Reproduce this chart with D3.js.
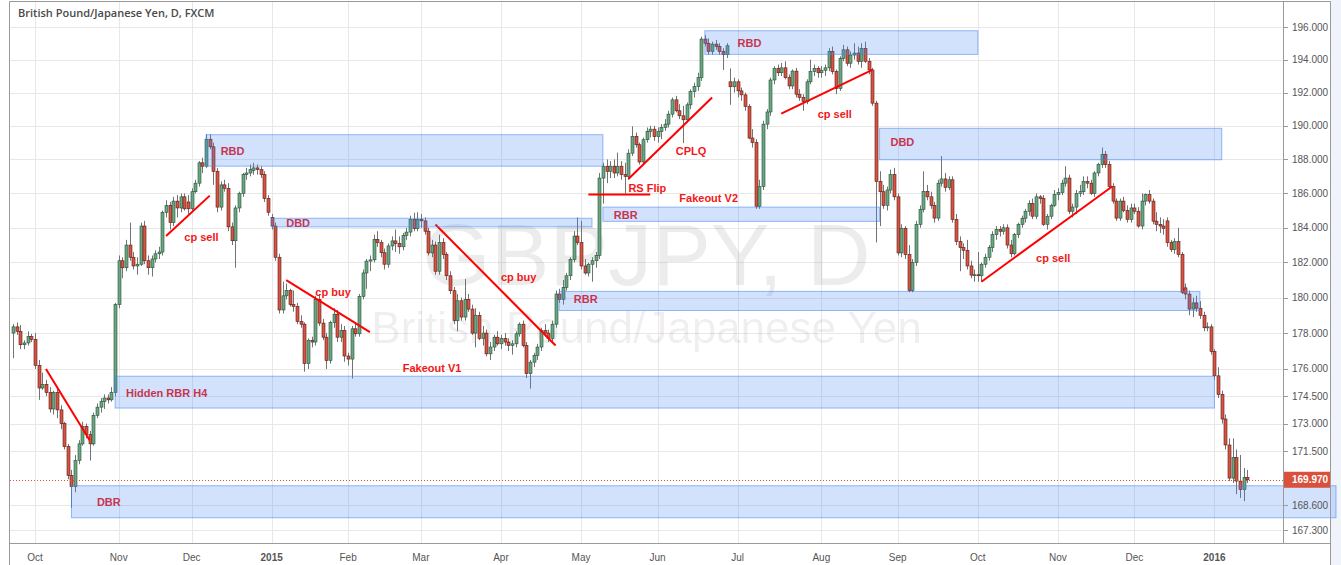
<!DOCTYPE html>
<html>
<head>
<meta charset="utf-8">
<script src="https://cdn.jsdelivr.net/npm/d3@7"></script>
<style>
  body { margin: 0; background: #fff; }
  svg { display: block; font-family: Arial, "Liberation Sans", sans-serif; }
</style>
</head>
<body>
<svg id="chart" width="1341" height="565"></svg>
<script>
// GBPJPY daily, FXCM. Trading days run Sep 23 2014 -> Jan 15 2016, weekends and these holidays skipped
var firstDay = "2014-09-23", lastDay = "2016-01-15";
var holidays = ["2014-12-25", "2015-01-01", "2015-12-25", "2016-01-01"];

var opens = [
  178.0,178.35,178.1,177.35,177.45,177.8,
  177.65,176.2,174.95,175.15,174.7,173.8,174.7,173.75,173.0,171.75,170.2,169.6,171.0,171.9,172.85,172.4,171.9,173.45,173.9,174.2,174.4,174.3,174.7,
  179.6,182.1,181.7,183.0,182.3,181.8,181.9,184.1,182.1,181.7,182.2,182.5,182.6,184.9,185.3,184.3,185.55,185.15,185.8,185.5,
  185.1,186.1,186.6,187.8,187.6,189.2,188.75,187.3,185.2,186.5,186.3,184.05,183.25,185.15,186.0,187.1,187.2,187.35,187.5,187.4,187.1,185.7,
  184.6,184.1,182.3,179.3,180.1,180.4,179.6,179.5,178.65,178.5,176.3,177.6,177.5,179.9,178.56,177.77,176.47,178.6,179.06,177.77,178.14,
  176.72,176.55,178.24,177.96,180.07,181.4,182.08,182.15,183.33,183.14,182.56,181.9,182.95,183.24,183.1,182.9,183.56,183.75,184.48,183.95,
  184.48,184.4,183.8,182.55,183.0,181.5,183.14,182.47,181.24,180.39,178.7,179.82,178.9,179.9,179.35,178.0,179.0,177.7,178.0,176.84,177.22,177.77,
  177.4,177.7,177.5,177.3,177.4,177.96,178.5,177.3,175.74,176.38,176.75,177.22,178.14,178.0,177.7,178.5,180.2,179.9,180.58,181.24,182.18,183.52,
  183.14,181.8,181.4,181.9,182.1,182.4,186.9,187.6,187.3,187.6,187.2,187.6,187.1,187.0,188.37,189.37,188.87,187.85,189.17,189.67,189.8,
  189.35,189.65,189.9,190.1,190.7,191.56,190.9,190.6,190.36,191.26,192.06,192.36,192.9,195.26,195.0,194.5,194.95,194.8,194.5,194.3,192.65,192.35,
  192.65,192.1,191.86,191.16,189.27,189.0,185.25,186.4,190.1,190.83,192.76,193.46,193.2,193.5,192.9,192.4,193.3,191.9,191.7,191.46,192.65,193.27,193.47,
  193.2,193.35,193.5,194.5,193.27,192.25,194.07,194.6,193.78,194.28,194.4,193.9,194.68,193.9,193.37,191.36,186.7,186.1,185.3,186.2,187.1,
  185.8,182.55,183.97,182.46,180.4,182.0,184.2,185.06,186.12,185.8,185.3,184.56,186.6,186.85,186.35,186.8,184.48,183.2,182.85,182.7,181.8,181.28,
  181.3,181.24,181.9,182.3,182.85,183.6,183.9,183.8,184.0,183.0,182.5,183.6,184.2,184.55,184.96,185.4,184.67,185.8,185.7,184.2,184.67,185.3,
  185.93,186.05,186.6,186.9,184.96,185.2,186.0,186.1,186.7,186.6,186.0,187.2,187.7,188.3,187.7,186.4,185.55,184.56,185.55,185.0,184.48,
  185.15,184.96,184.1,185.55,185.93,185.55,184.38,184.2,184.1,184.4,183.14,182.75,183.2,182.46,180.55,180.2,179.35,179.7,179.4,179.0,178.3,178.35,
  176.97,175.62,174.6,173.25,171.84,170.06,171.16,169.9,169.44,170.1
];
var highs = [
  178.5,178.6,178.45,177.6,178.1,177.95,
  178.0,176.5,175.8,175.4,175.0,174.8,174.9,174.0,173.1,171.9,170.5,171.3,172.1,173.1,173.0,172.6,173.6,174.1,174.4,174.6,174.6,175.0,179.7,
  182.4,182.3,183.3,184.3,182.6,182.3,184.3,184.4,182.4,182.4,182.7,182.9,185.0,185.6,185.5,185.8,185.9,186.0,186.0,185.9,
  186.3,186.8,187.9,188.1,189.5,189.5,189.0,187.5,186.7,186.8,186.6,184.3,185.3,186.1,187.2,187.5,187.7,187.8,187.7,187.6,187.3,185.9,
  184.8,184.3,182.5,180.9,180.8,180.5,180.4,179.7,179.0,178.6,177.7,177.8,180.1,180.2,178.8,178.0,178.7,179.4,179.3,178.5,178.4,
  176.9,178.4,178.6,180.2,181.6,182.2,182.4,183.6,183.8,183.3,182.8,183.1,183.5,183.9,183.5,183.7,184.0,184.7,184.87,184.9,
  184.8,184.6,184.0,183.3,183.2,183.6,183.4,182.6,181.5,180.6,180.2,180.0,181.05,180.2,179.6,179.4,179.2,178.4,178.2,177.5,177.9,178.1,
  177.9,178.0,177.7,177.6,178.1,178.6,178.7,177.5,176.5,176.9,177.4,178.3,178.5,178.2,178.7,180.4,180.5,181.0,181.4,182.3,183.8,184.6,
  184.4,182.2,182.0,182.3,182.6,187.2,187.8,188.0,187.9,188.0,188.4,187.9,187.8,188.6,189.97,189.6,189.0,189.3,189.9,190.0,190.0,
  189.9,190.1,190.4,190.9,191.7,191.8,191.3,191.2,191.4,192.2,192.6,193.2,195.4,195.5,195.3,195.1,195.2,195.0,194.7,195.0,193.46,192.9,
  192.8,192.3,192.0,191.3,189.8,189.2,186.8,190.3,191.0,192.9,193.6,193.7,193.8,193.9,193.1,193.4,193.5,192.2,191.9,192.8,194.0,193.7,193.6,
  193.6,193.7,194.7,194.8,193.4,194.2,194.9,194.8,194.5,195.0,194.8,195.0,195.1,194.1,193.5,191.5,187.3,186.5,186.4,187.4,187.5,
  186.0,184.2,184.1,183.0,182.2,184.4,185.3,187.3,186.5,186.1,185.5,186.8,188.2,187.2,187.0,187.0,184.8,183.5,183.1,183.3,182.1,181.6,
  182.6,182.0,182.5,183.0,183.8,184.1,184.1,184.2,184.2,183.3,183.7,184.3,184.7,185.1,185.6,185.7,186.0,185.9,185.9,184.8,185.4,186.2,
  186.3,186.8,187.6,187.1,185.4,186.2,186.5,187.0,187.0,186.8,187.3,187.8,188.7,188.5,187.9,186.6,185.7,185.7,185.8,185.3,185.4,
  185.4,185.2,186.0,186.0,186.2,185.7,184.9,184.6,184.5,184.6,183.3,183.4,184.0,182.6,180.8,180.4,180.0,180.1,179.8,179.2,178.6,178.5,
  177.1,176.1,174.8,173.5,172.2,172.2,171.6,171.3,170.6,170.5
];
var lows = [
  176.6,177.9,177.1,177.1,177.3,177.5,
  176.0,174.3,174.85,174.5,173.6,173.5,173.3,172.7,171.6,170.0,168.47,169.3,170.8,171.8,172.2,171.0,171.8,173.3,173.6,173.8,174.1,174.2,174.5,
  179.4,181.1,181.5,182.1,181.6,181.3,181.8,181.9,181.3,181.2,182.0,182.2,182.4,184.6,183.9,184.1,184.6,184.9,185.0,184.8,
  185.0,186.0,186.4,187.2,187.5,188.6,186.5,184.9,185.0,186.1,183.8,183.0,181.7,184.9,185.8,186.8,187.0,187.1,187.1,186.9,185.5,184.7,
  183.9,182.1,179.1,179.1,179.9,179.5,179.2,178.5,178.3,175.85,176.0,177.2,177.3,178.4,177.6,176.0,176.3,178.3,177.5,177.5,176.4,
  176.2,175.47,177.8,177.8,179.9,180.5,181.5,182.0,182.9,182.3,181.6,181.7,182.7,182.6,182.5,182.7,183.3,183.5,183.8,183.8,
  184.0,183.6,182.4,182.3,181.3,181.3,182.2,181.0,180.2,178.5,178.1,178.7,178.7,179.2,177.9,177.2,177.6,177.3,176.7,176.5,177.0,177.3,
  177.1,177.3,177.0,176.8,177.2,177.8,177.2,175.5,174.92,176.1,176.5,177.0,177.8,177.5,177.5,178.3,179.7,179.6,180.4,181.0,182.0,183.0,
  181.6,181.3,181.2,180.9,181.7,182.2,185.4,186.6,186.9,186.9,187.0,186.8,186.0,186.8,188.2,188.7,187.7,187.7,189.0,189.3,189.1,
  189.0,189.2,189.7,189.9,190.5,190.8,190.4,188.97,190.2,191.0,191.7,192.1,192.7,194.8,194.3,194.3,194.6,194.3,193.37,194.1,191.26,192.0,
  191.7,191.5,190.9,189.2,188.7,185.1,185.1,186.2,189.8,190.6,192.5,193.0,193.0,192.8,192.2,192.2,191.7,191.5,190.9,191.3,192.5,193.0,192.9,
  192.9,193.0,193.3,193.1,191.9,192.1,193.9,193.6,193.5,194.0,193.7,193.5,193.8,193.1,191.2,183.15,184.1,185.1,185.0,186.0,185.6,
  182.4,182.3,182.2,180.3,180.3,181.8,184.0,184.9,185.6,185.1,184.3,184.4,186.4,186.1,186.2,184.3,183.0,181.5,182.2,181.6,181.1,180.9,
  180.9,180.9,181.7,182.1,182.6,183.3,183.5,183.6,182.8,182.3,182.4,183.4,184.0,184.3,184.7,184.5,184.5,185.4,184.1,183.9,184.5,185.2,
  185.6,185.9,186.4,184.8,184.6,184.8,185.8,185.9,186.3,185.9,185.8,187.0,187.5,187.5,186.3,185.4,184.4,184.4,184.9,184.3,184.3,
  184.8,184.0,183.9,185.3,185.4,184.2,183.8,183.7,183.6,182.9,182.6,182.5,182.3,180.2,179.9,179.0,178.9,179.2,178.8,178.1,178.1,176.8,
  175.4,174.4,173.0,171.6,169.9,169.8,169.2,169.0,168.83,169.8
];
var closes = [
  178.35,178.1,177.35,177.45,177.8,177.65,
  176.2,174.95,175.15,174.7,173.8,174.7,173.75,173.0,171.75,170.2,169.6,171.0,171.9,172.85,172.4,171.9,173.45,173.9,174.2,174.4,174.3,174.7,179.6,
  182.1,181.7,183.0,182.3,181.8,181.9,184.1,182.1,181.7,182.2,182.5,182.6,184.9,185.3,184.3,185.55,185.15,185.8,185.1,185.1,
  186.1,186.6,187.8,187.6,189.2,188.75,187.3,185.2,186.5,186.3,184.05,183.25,185.15,186.0,187.1,187.2,187.4,187.5,187.4,187.1,185.7,184.9,
  184.1,182.3,179.3,180.1,180.4,179.6,179.5,178.65,178.5,176.3,177.6,177.5,179.9,178.56,177.77,176.47,178.6,179.06,177.77,178.14,176.72,
  176.55,178.24,177.96,180.07,181.4,182.08,182.15,183.33,183.14,182.56,181.9,182.95,183.24,183.1,182.9,183.56,183.75,184.48,183.95,184.48,
  184.4,183.8,182.55,183.0,181.5,183.14,182.47,181.24,180.39,178.7,179.82,178.9,179.9,179.35,178.0,179.0,177.7,178.0,176.84,177.22,177.77,177.4,
  177.7,177.5,177.3,177.4,177.96,178.5,177.3,175.74,176.38,176.75,177.22,178.14,178.0,177.7,178.5,180.2,179.9,180.58,181.24,182.18,183.52,183.14,
  181.8,181.4,181.9,182.1,182.4,186.9,187.6,187.3,187.6,187.2,187.6,187.1,187.0,188.37,189.37,188.87,187.85,189.17,189.67,189.8,189.35,
  189.65,189.9,190.1,190.7,191.56,190.9,190.6,190.36,191.26,192.06,192.36,192.9,195.26,195.0,194.5,194.95,194.8,194.5,194.3,194.85,192.35,192.65,
  192.1,191.86,191.16,189.27,189.0,185.25,186.4,190.1,190.83,192.76,193.46,193.2,193.5,192.9,192.4,193.3,191.9,191.7,191.46,192.65,193.27,193.47,193.2,
  193.35,193.5,194.5,193.27,192.25,194.07,194.6,193.78,194.28,194.4,193.9,194.68,193.9,193.37,191.36,186.7,186.1,185.3,186.2,187.1,185.8,
  182.55,183.97,182.46,180.4,182.0,184.2,185.06,186.12,185.8,185.3,184.56,186.6,186.85,186.35,186.8,184.48,183.2,182.85,182.7,181.8,181.28,181.3,
  181.24,181.9,182.3,182.85,183.6,183.9,183.8,184.0,183.0,182.5,183.6,184.2,184.55,184.96,185.4,184.67,185.8,185.7,184.2,184.67,185.3,185.93,
  186.05,186.6,186.9,184.96,185.2,186.0,186.1,186.7,186.6,186.0,187.2,187.7,188.3,187.7,186.4,185.55,184.56,185.55,185.0,184.48,185.15,
  184.96,184.1,185.55,185.93,185.55,184.38,184.2,184.1,183.96,183.14,182.75,183.2,182.46,180.3,180.2,179.35,179.7,179.4,179.0,178.3,178.35,176.97,
  175.62,174.6,173.25,171.84,170.06,171.16,169.9,169.44,170.1,169.97
];

var priceTicks = [196, 194, 192, 190, 188, 186, 184, 182, 180, 178, 176, 174.5, 173, 171.5, 168.6, 167.3];
var lastPrice = 169.97;

// supply / demand zones drawn on the chart (null end = runs to the right edge)
var zoneFrom   = ["2014-12-05", "2015-01-02", "2015-04-23", "2015-05-11", "2015-06-18", "2015-08-25", "2014-10-31", "2014-10-15"];
var zoneTo     = ["2015-05-11", "2015-05-06", "2015-12-28", "2015-08-25", "2015-10-01", "2016-01-06", "2016-01-04", null];
var zoneTop    = [189.47, 184.55, 180.35, 185.2, 195.77, 189.85, 175.6, 169.65];
var zoneBottom = [187.6, 184.05, 179.27, 184.37, 194.32, 187.98, 173.85, 167.95];

// red trend lines
var lineFrom   = ["2014-10-06", "2014-11-20", "2015-01-08", "2015-03-06", "2015-05-05", "2015-05-20", "2015-07-17", "2015-10-02"];
var lineFromPx = [176.0, 183.52, 180.99, 184.19, 185.93, 186.85, 190.73, 180.9];
var lineTo     = ["2014-10-22", "2014-12-08", "2015-02-10", "2015-04-22", "2015-05-28", "2015-06-22", "2015-08-21", "2015-11-23"];
var lineToPx   = [172.1, 185.87, 178.05, 177.31, 185.93, 191.7, 193.37, 186.42];

// annotation labels
var noteText  = ["DBR", "Hidden RBR H4", "cp sell", "RBD", "DBD", "cp buy", "Fakeout V1", "cp buy", "RBR", "RBR",
                 "RS Flip", "Fakeout V2", "CPLQ", "RBD", "cp sell", "DBD", "cp sell"];
var noteDate  = ["2014-10-24", "2014-11-05", "2014-11-27", "2014-12-11", "2015-01-08", "2015-01-20", "2015-02-23", "2015-04-01", "2015-04-29", "2015-05-14",
                 "2015-05-20", "2015-06-09", "2015-06-08", "2015-07-01", "2015-07-31", "2015-08-28", "2015-10-23"];
var notePrice = [168.79, 174.65, 183.44, 188.51, 184.25, 180.31, 176.02, 181.16, 179.92, 184.71,
                 186.28, 185.7, 188.51, 195.02, 190.72, 189.05, 182.24];

var W = 1341, H = 565;
var pane = { left: 10, right: 1283, top: 2, bottom: 543 };
var axisRight = 1330;

var parse = d3.timeParse("%Y-%m-%d"), fmt = d3.timeFormat("%Y-%m-%d");
var days = d3.timeDay.range(parse(firstDay), d3.timeDay.offset(parse(lastDay), 1))
  .filter(function(d) { return d.getDay() % 6 != 0 && holidays.indexOf(fmt(d)) < 0; })
  .map(fmt);

var candles = days.map(function(d, i) {
  return { date: d, o: opens[i], h: highs[i], l: lows[i], c: closes[i] };
});

var x = d3.scalePoint().domain(days).range([13.2, 1247.2]);
var y = d3.scaleLog().domain([166.62, 197.55]).range([pane.bottom, pane.top]);
var step = x.step();

var svg = d3.select("#chart");

svg.append("rect").attr("width", W).attr("height", H).attr("fill", "#fff");
svg.append("rect").attr("x", axisRight).attr("y", 0).attr("width", W - axisRight).attr("height", H).attr("fill", "#f0f3fa");

svg.append("clipPath").attr("id", "paneClip")
  .append("rect").attr("x", pane.left).attr("y", pane.top)
  .attr("width", pane.right - pane.left).attr("height", pane.bottom - pane.top);

var plot = svg.append("g").attr("clip-path", "url(#paneClip)");

// month gridlines
var monthStarts = days.filter(function(d, i) { return i > 0 && d.slice(0, 7) != days[i - 1].slice(0, 7); });

plot.append("g").selectAll("line").data(monthStarts).join("line")
  .attr("x1", function(d) { return Math.round(x(d)) + 0.5; })
  .attr("x2", function(d) { return Math.round(x(d)) + 0.5; })
  .attr("y1", pane.top).attr("y2", pane.bottom)
  .attr("stroke", "#e8e8e8");

plot.append("g").selectAll("line").data(priceTicks).join("line")
  .attr("x1", pane.left).attr("x2", pane.right)
  .attr("y1", function(d) { return Math.round(y(d)) + 0.5; })
  .attr("y2", function(d) { return Math.round(y(d)) + 0.5; })
  .attr("stroke", "#e8e8e8");

// watermark
var cx = (pane.left + pane.right) / 2;
plot.append("text").attr("x", cx).attr("y", 285).attr("text-anchor", "middle")
  .attr("font-size", 88).attr("fill", "#000").attr("fill-opacity", 0.075).text("GBPJPY, D");
plot.append("text").attr("x", cx).attr("y", 343).attr("text-anchor", "middle")
  .attr("font-size", 44).attr("fill", "#000").attr("fill-opacity", 0.075).text("British Pound/Japanese Yen");

// candles
var up = { fill: "#6ba583", stroke: "#225437" }, down = { fill: "#d75442", stroke: "#5b1a13" };
var cg = plot.append("g");
cg.selectAll("line").data(candles).join("line")
  .attr("x1", function(d) { return Math.round(x(d.date)) + 0.5; })
  .attr("x2", function(d) { return Math.round(x(d.date)) + 0.5; })
  .attr("y1", function(d) { return y(Math.max(d.h, d.o, d.c)); })
  .attr("y2", function(d) { return y(Math.min(d.l, d.o, d.c)); })
  .attr("stroke", "#737375").attr("stroke-width", 1);

var bodyW = 3;
cg.selectAll("rect").data(candles).join("rect")
  .attr("x", function(d) { return Math.round(x(d.date)) - 1; })
  .attr("width", bodyW)
  .attr("y", function(d) { return y(Math.max(d.o, d.c)); })
  .attr("height", function(d) { return Math.max(1, y(Math.min(d.o, d.c)) - y(Math.max(d.o, d.c))); })
  .attr("fill", function(d) { return d.c >= d.o ? up.fill : down.fill; })
  .attr("stroke", function(d) { return d.c >= d.o ? up.stroke : down.stroke; })
  .attr("stroke-width", 0.6);

// zones
var zones = zoneFrom.map(function(d, i) {
  return { from: d, to: zoneTo[i], top: zoneTop[i], bottom: zoneBottom[i] };
});
var zoneLayer = svg.append("g");
zoneLayer.selectAll("rect").data(zones).join("rect")
  .attr("x", function(d) { return x(d.from); })
  .attr("width", function(d) { return (d.to ? x(d.to) : 1336) - x(d.from); })
  .attr("y", function(d) { return y(d.top); })
  .attr("height", function(d) { return y(d.bottom) - y(d.top); })
  .attr("fill", "rgb(66,133,244)").attr("fill-opacity", 0.24)
  .attr("stroke", "rgb(66,133,244)").attr("stroke-opacity", 0.55).attr("stroke-width", 1);

// trend lines
plot.append("g").selectAll("line").data(lineFrom).join("line")
  .attr("x1", function(d) { return x(d); })
  .attr("y1", function(d, i) { return y(lineFromPx[i]); })
  .attr("x2", function(d, i) { return x(lineTo[i]); })
  .attr("y2", function(d, i) { return y(lineToPx[i]); })
  .attr("stroke", "#f00").attr("stroke-width", 2);

// labels
plot.append("g").selectAll("text").data(noteText).join("text")
  .attr("x", function(d, i) { return x(noteDate[i]); })
  .attr("y", function(d, i) { return y(notePrice[i]); })
  .attr("dy", "0.35em")
  .attr("font-size", 11).attr("font-weight", "bold").attr("fill", "#f21818")
  .text(function(d) { return d; });

// last price line
plot.append("line")
  .attr("x1", pane.left).attr("x2", pane.right)
  .attr("y1", Math.round(y(lastPrice)) + 0.5).attr("y2", Math.round(y(lastPrice)) + 0.5)
  .attr("stroke", "#d9503c").attr("stroke-dasharray", "1,2");

// frame
var frame = svg.append("g").attr("stroke", "#9a9a9a").attr("fill", "none");
frame.append("line").attr("x1", pane.left - 0.5).attr("x2", pane.left - 0.5).attr("y1", 1.5).attr("y2", H);
frame.append("line").attr("x1", pane.left - 0.5).attr("x2", axisRight + 0.5).attr("y1", 1.5).attr("y2", 1.5);
frame.append("line").attr("x1", pane.right + 0.5).attr("x2", pane.right + 0.5).attr("y1", 1.5).attr("y2", pane.bottom + 0.5);
frame.append("line").attr("x1", axisRight + 0.5).attr("x2", axisRight + 0.5).attr("y1", 1.5).attr("y2", H);
frame.append("line").attr("x1", pane.left - 0.5).attr("x2", axisRight + 0.5).attr("y1", pane.bottom + 0.5).attr("y2", pane.bottom + 0.5);

// price axis
var pa = svg.append("g");
pa.selectAll("line").data(priceTicks).join("line")
  .attr("x1", pane.right + 1).attr("x2", pane.right + 5)
  .attr("y1", function(d) { return Math.round(y(d)) + 0.5; })
  .attr("y2", function(d) { return Math.round(y(d)) + 0.5; })
  .attr("stroke", "#9a9a9a");
pa.selectAll("text").data(priceTicks).join("text")
  .attr("x", pane.right + 9).attr("y", function(d) { return y(d); }).attr("dy", "0.35em")
  .attr("font-size", 10).attr("fill", "#555")
  .text(function(d) { return d3.format(".3f")(d); });

var ly = y(lastPrice);
pa.append("rect").attr("x", pane.right + 1).attr("y", ly - 8).attr("width", axisRight - pane.right - 1).attr("height", 16)
  .attr("fill", "#d9503c");
pa.append("text").attr("x", pane.right + 9).attr("y", ly).attr("dy", "0.35em")
  .attr("font-size", 10).attr("font-weight", "bold").attr("fill", "#fff").text(d3.format(".3f")(lastPrice));

// time axis
var monthFmt = d3.timeFormat("%b");
svg.append("g").selectAll("text").data(monthStarts).join("text")
  .attr("x", function(d) { return x(d); }).attr("y", 557).attr("dy", "0.35em")
  .attr("text-anchor", "middle").attr("font-size", 10).attr("fill", "#555")
  .attr("font-weight", function(d) { return d.slice(5, 7) == "01" ? "bold" : "normal"; })
  .text(function(d) { return d.slice(5, 7) == "01" ? d.slice(0, 4) : monthFmt(parse(d)); });

// title
svg.append("text").attr("x", 18).attr("y", 17)
  .attr("font-family", "'Open Sans', sans-serif").attr("font-size", 11).attr("font-weight", 600)
  .attr("fill", "#4a4a4a").text("British Pound/Japanese Yen, D, FXCM");
</script>
</body>
</html>
